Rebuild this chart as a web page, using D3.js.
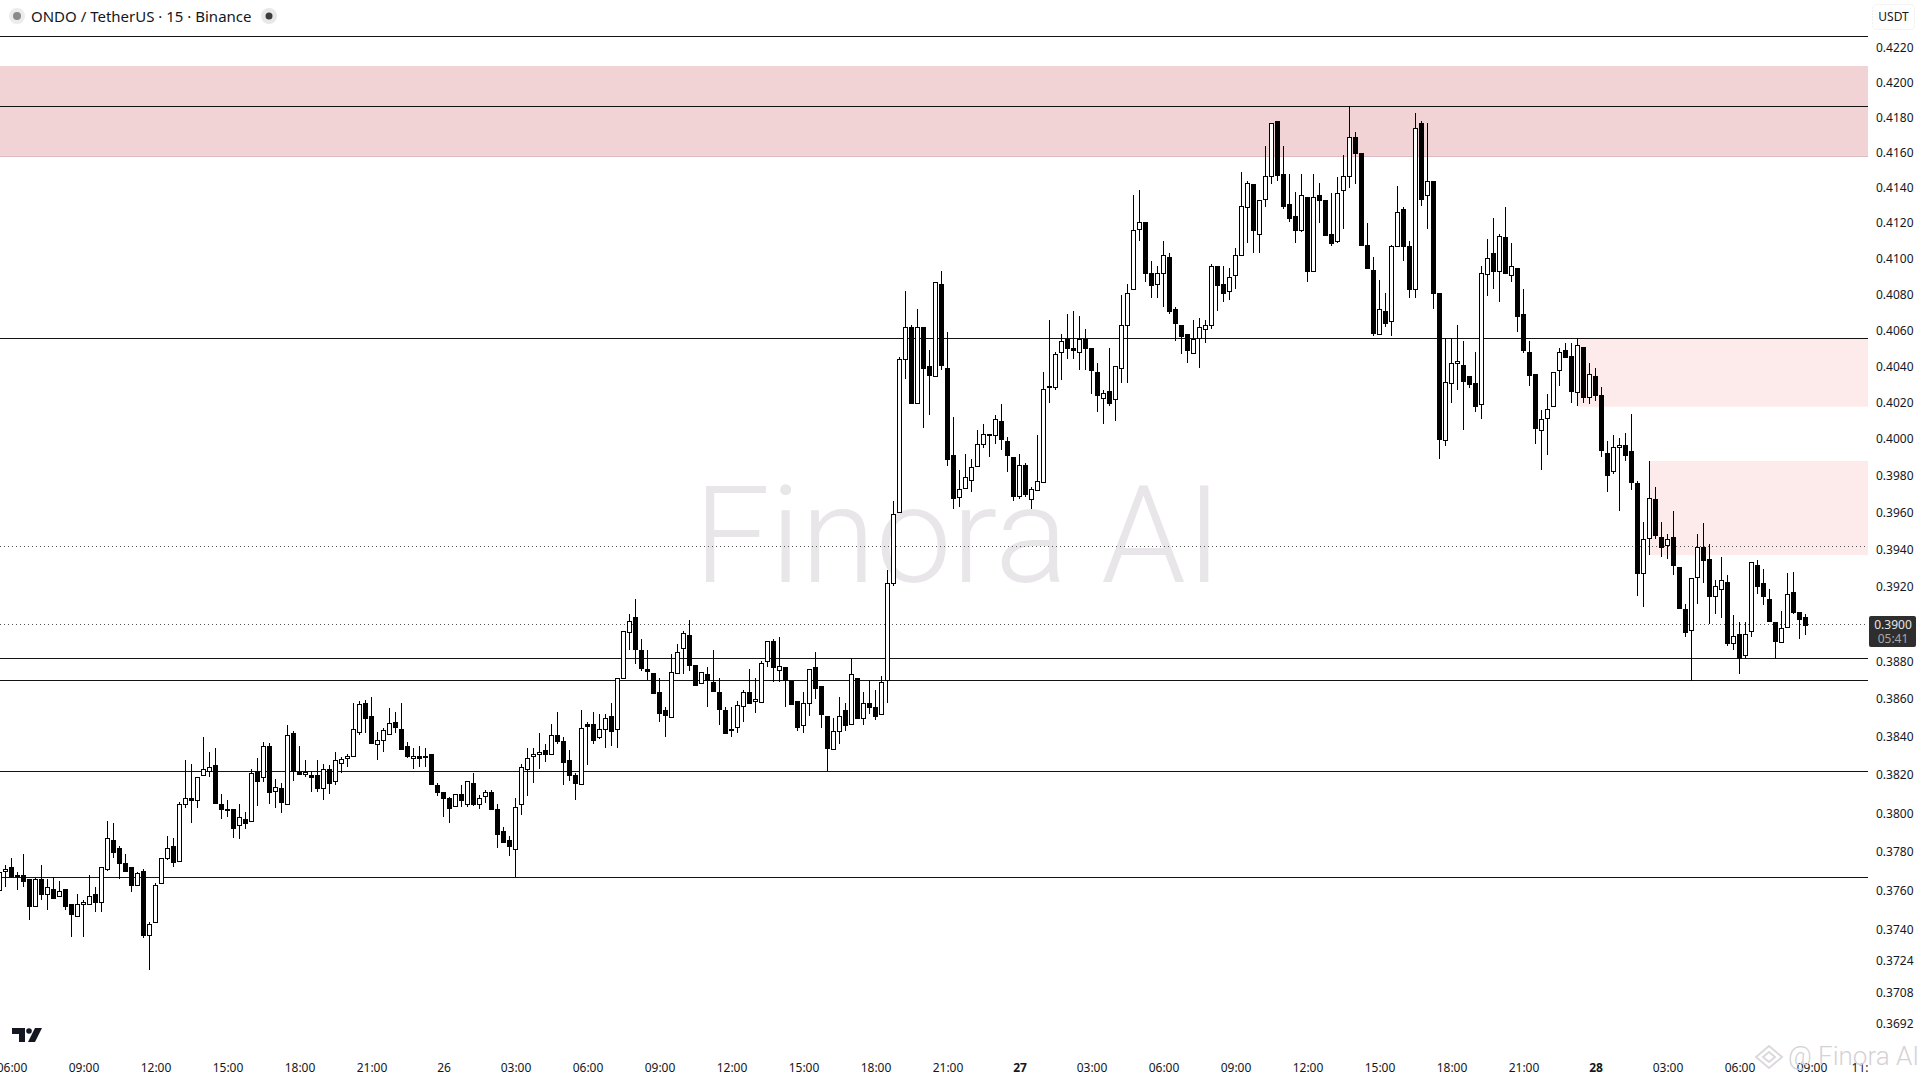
<!DOCTYPE html>
<html><head><meta charset="utf-8">
<script src="https://d3js.org/d3.v7.min.js"></script>
<style>
html,body{margin:0;padding:0;background:#fff;overflow:hidden}
svg{display:block}
text{font-family:"Noto Sans","Open Sans",sans-serif}
</style></head><body>
<svg id="c" width="1920" height="1080"></svg>
<script>
// Prices are stored in units of 0.00001 USDT
const priceUnit = 1e-5;
const opens = [37608,37699,37721,37680,37680,37659,37519,37659,37580,37608,
37570,37608,37531,37467,37531,37531,37582,37539,37711,37860,
37819,37742,37721,37626,37701,37370,37438,37638,37768,37831,
37750,38048,38079,38068,38199,38220,38251,38048,38023,38023,
37938,37969,37959,38220,38189,38351,38121,38131,38048,38419,
38218,38209,38199,38199,38129,38230,38166,38267,38288,38296,
38428,38577,38509,38365,38386,38417,38477,38440,38351,38286,
38298,38298,38310,38147,38110,38079,38035,38100,38046,38157,
38046,38088,38110,38021,37907,37860,37817,38046,38228,38296,
38309,38330,38309,38409,38377,38277,38199,38157,38468,38468,
38396,38440,38509,38440,38710,38959,39039,38860,38757,38736,
38640,38540,38509,38736,38869,38938,38779,38688,38731,38690,
38640,38540,38440,38451,38567,38640,38588,38584,38800,38906,
38757,38768,38697,38588,38461,38577,38768,38667,38509,38338,
38430,38540,38466,38710,38500,38577,38556,38519,38699,39217,
39598,40438,40616,40193,40616,40399,40347,40856,40388,39910,
39685,39728,39779,39848,39970,40025,40018,40096,39987,39899,
39685,39855,39676,39719,39768,40286,40286,40475,40553,40499,
40477,40553,40499,40366,40228,40266,40215,40386,40627,40826,
41165,41205,40918,40854,40918,41007,40716,40627,40577,40475,
40553,40605,40627,40957,40856,40815,40906,41019,41289,41419,
41137,41334,41465,41780,41476,41306,41238,41158,41346,40927,
41357,41329,41137,41095,41385,41465,41687,41596,41075,40935,
40577,40705,40649,41075,41278,41069,40826,41767,41357,41436,
40805,39996,40305,40416,40405,40349,40305,40189,40918,41030,
40927,41120,40906,40946,40688,40477,40355,40047,40118,40178,
40375,40488,40457,40255,40505,40228,40349,40239,39925,39828,
39958,39969,39936,39757,39273,39458,39672,39469,39426,39469,
39307,39078,38969,39248,39413,39345,39146,39189,39226,38900,
38948,38836,38959,39318,39216,39135,39007,38903,38980,39168,
39065,39039];
const highs = [37699,37733,37768,37699,37788,37659,37664,37733,37659,37670,
37649,37608,37531,37582,37553,37682,37621,37721,37961,37948,
37831,37788,37721,37699,37711,37438,37638,37768,37883,37871,
38058,38279,38258,38189,38398,38323,38342,38102,38070,38023,
38049,38009,38230,38288,38375,38370,38180,38157,38463,38430,
38353,38279,38220,38279,38256,38253,38319,38296,38309,38577,
38590,38595,38611,38428,38445,38551,38530,38577,38375,38340,
38353,38340,38310,38157,38114,38088,38100,38147,38168,38209,
38098,38122,38122,38048,37929,37883,38081,38256,38340,38340,
38421,38363,38468,38530,38398,38332,38209,38542,38479,38530,
38521,38521,38577,38710,38959,39050,39131,38918,38860,38736,
38710,38556,38839,38892,38961,39018,38780,38745,38768,38860,
38710,38556,38556,38588,38648,38757,38710,38800,38906,38917,
38927,38768,38697,38588,38640,38757,38848,38667,38509,38498,
38611,38577,38816,38710,38640,38697,38648,38722,39288,39661,
40453,40818,40629,40716,40616,40490,40867,40929,40588,40120,
39830,39918,39890,40049,40080,40025,40129,40191,40012,39899,
39916,39866,39739,40021,40366,40657,40477,40577,40690,40707,
40677,40607,40499,40416,40268,40499,40399,40796,40856,41357,
41387,41205,40985,40959,41099,41030,40727,40627,40577,40657,
40666,40657,40970,40957,40957,40946,41058,41488,41440,41419,
41329,41638,41767,41780,41638,41476,41374,41476,41346,41476,
41425,41329,41370,41461,41586,41866,41716,41596,41199,41007,
40878,40805,41075,41408,41289,41097,41826,41778,41767,41436,
40805,40555,40555,40627,40540,40349,40479,40959,41110,41229,
41139,41289,41086,40946,40828,40540,40355,40158,40246,40366,
40499,40527,40527,40555,40505,40416,40388,40286,39989,40023,
40007,40034,40136,39768,39547,39878,39735,39547,39485,39607,
39307,39108,39248,39480,39544,39428,39237,39356,39261,39049,
39007,39007,39329,39341,39296,39189,39007,39067,39270,39275,
39065,39055];
const lows = [37604,37621,37664,37604,37621,37450,37519,37553,37501,37560,
37566,37501,37365,37467,37365,37531,37493,37493,37704,37768,
37659,37699,37595,37626,37356,37192,37438,37633,37759,37725,
37750,38027,37952,38030,38199,38189,38049,37973,37983,37874,
37866,37917,37959,38039,38166,38049,38030,38004,38048,38171,
38201,38189,38114,38114,38070,38102,38150,38213,38244,38296,
38410,38422,38365,38279,38323,38417,38422,38332,38288,38232,
38241,38241,38155,38091,37983,37950,38032,38035,38032,38039,
38025,38053,38018,37823,37845,37780,37673,37992,38093,38161,
38232,38270,38307,38363,38148,38171,38070,38157,38253,38363,
38389,38344,38352,38344,38705,38860,38786,38750,38701,38628,
38479,38402,38509,38736,38732,38750,38669,38683,38560,38644,
38463,38417,38402,38422,38479,38581,38525,38581,38772,38692,
38692,38560,38569,38433,38422,38512,38600,38445,38222,38335,
38363,38431,38466,38500,38463,38521,38489,38514,38581,39204,
39598,40331,40193,40193,40061,40131,40347,40379,39852,39620,
39630,39728,39712,39845,39950,39903,39972,39939,39821,39663,
39674,39685,39620,39719,39768,40198,40268,40322,40440,40440,
40379,40379,40246,40149,40083,40182,40098,40309,40309,40826,
41099,40869,40781,40781,40729,40690,40542,40468,40420,40471,
40392,40531,40608,40709,40759,40768,40830,41019,41088,41034,
41034,41291,41423,41440,41282,41208,41090,41152,40869,40927,
41202,41128,41073,41090,41169,41400,41423,41073,40944,40570,
40577,40620,40568,41075,40987,40781,40781,41298,41167,40720,
39892,39963,40195,40268,40049,40281,40149,40109,40792,40830,
40759,40916,40871,40592,40471,40292,39974,39832,39914,40173,
40292,40444,40198,40182,40198,40191,40209,39903,39712,39811,
39609,39880,39723,39148,39090,39368,39458,39359,39349,39261,
39085,38930,38698,39108,39219,38998,39055,39032,38880,38859,
38733,38814,38930,39159,39099,39015,38814,38903,38975,39055,
38917,38939];
const closes = [37699,37711,37676,37676,37647,37519,37659,37580,37618,37560,
37597,37519,37478,37531,37541,37572,37539,37721,37871,37797,
37740,37699,37626,37690,37370,37428,37628,37768,37819,37750,
38048,38079,38067,38189,38230,38241,38055,38020,38020,37926,
37980,37947,38209,38166,38351,38108,38140,38056,38409,38220,
38208,38218,38187,38129,38230,38155,38277,38286,38298,38440,
38575,38496,38365,38386,38438,38475,38449,38337,38296,38298,
38286,38296,38155,38108,38077,38025,38100,38067,38168,38046,
38079,38110,38020,37893,37848,37828,38035,38241,38288,38309,
38319,38307,38409,38375,38267,38197,38155,38450,38459,38386,
38440,38498,38428,38710,38959,39016,38867,38766,38745,38628,
38528,38516,38745,38848,38949,38777,38674,38745,38701,38644,
38549,38417,38438,38567,38640,38584,38598,38789,38906,38766,
38777,38699,38574,38449,38577,38757,38657,38517,38338,38430,
38509,38461,38731,38500,38577,38554,38507,38688,39217,39589,
40438,40616,40193,40616,40386,40347,40867,40403,39888,39674,
39728,39790,39848,39970,40025,40018,40107,39996,39908,39685,
39855,39696,39728,39768,40277,40290,40466,40538,40505,40488,
40549,40503,40375,40237,40253,40202,40399,40627,40805,41160,
41205,40916,40852,40918,41019,40703,40636,40564,40486,40553,
40616,40627,40957,40852,40804,40895,41019,41295,41425,41158,
41329,41465,41767,41474,41293,41225,41158,41357,40927,41346,
41331,41133,41084,41368,41465,41687,41594,41073,40944,40586,
40716,40638,41071,41265,41067,40826,41739,41332,41436,40804,
39996,40314,40416,40427,40314,40303,40177,40918,41005,40931,
41126,40916,40957,40675,40486,40347,40056,40107,40167,40366,
40477,40447,40264,40516,40226,40355,40242,39938,39804,39958,
39969,39913,39766,39268,39458,39676,39478,39413,39458,39316,
39085,38955,39248,39410,39343,39144,39200,39237,38898,38937,
38822,38948,39329,39203,39144,39015,38903,38980,39157,39060,
39026,38996];

const priceTicks = ["0.4220","0.4200","0.4180","0.4160","0.4140","0.4120","0.4100","0.4080","0.4060","0.4040","0.4020","0.4000","0.3980","0.3960","0.3940","0.3920","0.3880","0.3860","0.3840","0.3820","0.3800","0.3780","0.3760","0.3740","0.3724","0.3708","0.3692"];
const timeTickIndex = [2,14,26,38,50,62,74,86,98,110,122,134,146,158,170,182,194,206,218,230,242,254,266,278,290,302,310];
const timeTickLabels = ["06:00","09:00","12:00","15:00","18:00","21:00","26","03:00","06:00","09:00","12:00","15:00","18:00","21:00","27","03:00","06:00","09:00","12:00","15:00","18:00","21:00","28","03:00","06:00","09:00","11:"];
const boldTimeLabels = ["27","28"];
const solidLevels = [0.42269,0.41865,0.40555,0.38816,0.38699,0.38220,0.37669];
const dottedLevels = [0.39416,0.38997];
const zoneTop = [0.42096,0.40555,0.39879];
const zoneBottom = [0.41581,0.40177,0.39369];
const zoneStart = [0,263,275];
const zoneFill = ["#f1d3d6","#fdeaea","#fdeaea"];
const lastPrice = "0.3900", countdown = "05:41";

const W=1868;
const svg=d3.select("#c");
const x=d3.scaleLinear().domain([0,310]).range([-0.5,1859.5]);
const y=d3.scaleLog().domain([0.422,0.3692]).range([48,1024]);
const snap=v=>Math.round(v)+0.5;

svg.append("rect").attr("width",1920).attr("height",1080).attr("fill","#fff");

// zones
svg.append("g").selectAll("rect").data(zoneTop).join("rect")
 .attr("x",(d,i)=>Math.max(0,x(zoneStart[i])))
 .attr("y",d=>y(d))
 .attr("width",(d,i)=>W-Math.max(0,x(zoneStart[i])))
 .attr("height",(d,i)=>y(zoneBottom[i])-y(d))
 .attr("fill",(d,i)=>zoneFill[i]);
svg.append("line").attr("x1",0).attr("x2",W).attr("y1",snap(y(zoneBottom[0]))).attr("y2",snap(y(zoneBottom[0]))).attr("stroke","#dcb9be");

// big watermark
svg.append("text").attr("x",958).attr("y",582).attr("text-anchor","middle")
 .style("font-family","Roboto").style("font-weight",300).style("font-size","136px").attr("fill","#e8e6e8").text("Finora AI");

// levels
svg.append("g").selectAll("line").data(solidLevels).join("line")
 .attr("x1",0).attr("x2",W).attr("y1",d=>snap(y(d))).attr("y2",d=>snap(y(d)))
 .attr("stroke","#131313").attr("stroke-width",1);
svg.append("g").selectAll("line").data(dottedLevels).join("line")
 .attr("x1",0).attr("x2",W).attr("y1",d=>snap(y(d))).attr("y2",d=>snap(y(d)))
 .attr("stroke","#555").attr("stroke-width",1).attr("stroke-dasharray","1 3");

// candles
const idx=d3.range(opens.length);
const g=svg.append("g").attr("shape-rendering","crispEdges");
g.selectAll("line").data(idx).join("line")
 .attr("x1",i=>x(i)).attr("x2",i=>x(i))
 .attr("y1",i=>Math.round(y(highs[i]*priceUnit)))
 .attr("y2",i=>Math.round(y(lows[i]*priceUnit)))
 .attr("stroke","#000");
g.selectAll("rect").data(idx).join("rect")
 .attr("x",i=>x(i)-2).attr("width",4)
 .attr("y",i=>snap(y(Math.max(opens[i],closes[i])*priceUnit)))
 .attr("height",i=>Math.max(1,Math.round(y(Math.min(opens[i],closes[i])*priceUnit)-y(Math.max(opens[i],closes[i])*priceUnit))))
 .attr("fill",i=>closes[i]>=opens[i]?"#fff":"#000")
 .attr("stroke","#000");

// price axis
const py=d3.axisRight(y).tickValues(priceTicks.map(Number)).tickFormat(d3.format(".4f")).tickSize(0).tickPadding(0);
const pa=svg.append("g").attr("transform","translate(1876,0)").call(py);
pa.select(".domain").remove();
pa.selectAll("text").style("font-size","12px").attr("fill","#131722");

// time axis
const tx=d3.axisBottom(x).tickValues(timeTickIndex).tickFormat((d,i)=>timeTickLabels[i]).tickSize(0).tickPadding(0);
const ta=svg.append("g").attr("transform","translate(0,1063)").call(tx);
ta.select(".domain").remove();
ta.selectAll("text").style("font-size","12px").attr("fill","#131722")
 .style("font-weight",(d,i)=>boldTimeLabels.includes(timeTickLabels[i])?"700":"400");

// header
svg.append("line").attr("x1",0).attr("x2",0).attr("y1",0).attr("y2",0);
svg.append("circle").attr("cx",17).attr("cy",16).attr("r",8).attr("fill","#ececec");
svg.append("circle").attr("cx",17).attr("cy",16).attr("r",4).attr("fill","#8a8a8a");
svg.append("text").attr("x",31).attr("y",21.5).style("font-size","15px").attr("fill","#131722").attr("xml:space","preserve").text("ONDO / TetherUS · 15 · Binance");
svg.append("circle").attr("cx",269).attr("cy",16).attr("r",8).attr("fill","#e8e8e8");
svg.append("circle").attr("cx",269).attr("cy",16).attr("r",3.5).attr("fill","#3c3c3c");

// USDT box
svg.append("rect").attr("x",1872.5).attr("y",4.5).attr("width",42).attr("height",25).attr("rx",4).attr("fill","#fff").attr("stroke","#eee").attr("stroke-dasharray","2 1");
svg.append("text").attr("x",1893.5).attr("y",21).attr("text-anchor","middle").style("font-size","12px").attr("fill","#131722").text("USDT");

// last price tag
svg.append("rect").attr("x",1869).attr("y",616).attr("width",47).attr("height",31).attr("rx",2).attr("fill","#2e2e2e");
svg.append("text").attr("x",1893).attr("y",629).attr("text-anchor","middle").style("font-size","12px").attr("fill","#e6e6e6").text(lastPrice);
svg.append("text").attr("x",1893).attr("y",643).attr("text-anchor","middle").style("font-size","12px").attr("fill","#a8a8a8").text(countdown);

// logo
const logo=svg.append("g").attr("fill","#131722");
logo.append("path").attr("d","M12 1028H25V1042H19V1034H12Z");
logo.append("circle").attr("cx",29).attr("cy",1031).attr("r",2.8);
logo.append("path").attr("d","M35 1028H42L35 1042H28Z");

// corner watermark
const dm=svg.append("g").attr("fill","none").attr("stroke","#dcd9dc").attr("stroke-width",2);
dm.append("path").attr("d","M1769 1046L1782 1057L1769 1068L1756 1057Z");
dm.append("path").attr("d","M1769 1052L1775 1057L1769 1062L1763 1057Z");
svg.append("text").attr("x",1788).attr("y",1065).style("font-family","Roboto").style("font-weight",300).style("font-size","26px").attr("fill","#d5d2d5").text("@ Finora AI");
</script>
</body></html>
